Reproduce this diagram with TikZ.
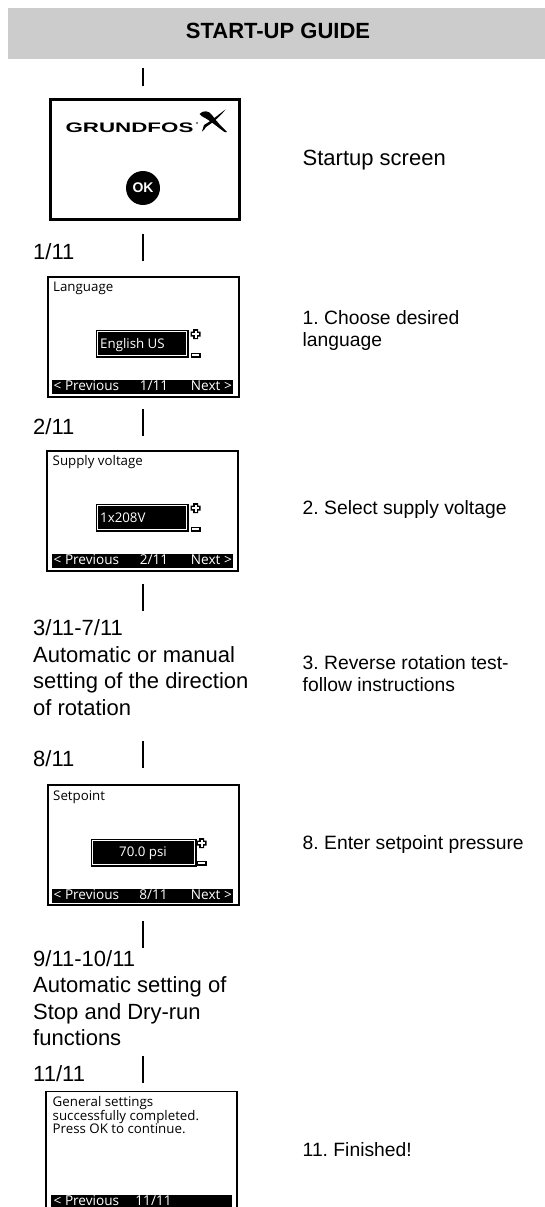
\documentclass[tikz,border=0pt]{standalone}
\usepackage{fontspec}
\setmainfont{Liberation Sans}
\newfontfamily\lcd{Open Sans}
\definecolor{hdr}{RGB}{204,204,204}
\tikzset{
 x=1pt,y=-1pt,
 link/.style={draw=black,line width=2pt},
 screen/.style={draw=black,fill=white,line width=1.6pt,minimum width=191pt,minimum height=120pt,inner sep=0pt,anchor=north west},
 big/.style={anchor=base west,inner sep=0pt,font=\fontsize{22}{26.5}\selectfont\frenchspacing,align=left},
 captxt/.style={anchor=base west,inner sep=0pt,font=\fontsize{19.3}{22}\selectfont\frenchspacing,align=left},
 lcdtext/.style={inner sep=0pt,font=\lcd\fontsize{13.3}{13.7}\selectfont,align=left},
 lcdbar/.style={inner sep=0pt,text=white,font=\lcd\fontsize{13.6}{13.7}\selectfont},
 bar/.style={fill=black,inner sep=0pt,minimum width=181pt,minimum height=14pt,anchor=north west},
 valbox/.style={draw=black,fill=black,inner sep=0pt,minimum height=27pt,line width=.5pt},
 valtext/.style={inner sep=0pt,text=white,font=\lcd\fontsize{13.3}{13.7}\selectfont},
}
\newcommand{\plusminus}[3]{%
 \fill (#1-2.5,#2-5)--(#1+2.5,#2-5)--(#1+2.5,#2-2.5)--(#1+5,#2-2.5)--(#1+5,#2+2.5)--(#1+2.5,#2+2.5)--(#1+2.5,#2+5)--(#1-2.5,#2+5)--(#1-2.5,#2+2.5)--(#1-5,#2+2.5)--(#1-5,#2-2.5)--(#1-2.5,#2-2.5)--cycle;
 \fill[white] (#1-1,#2-3.5) rectangle (#1+1,#2+3.5);
 \fill[white] (#1-3.5,#2-1) rectangle (#1+3.5,#2+1);
 \fill (#1-5,#3-2.5) rectangle (#1+5,#3+2.5);
 \fill[white] (#1-3.5,#3-1) rectangle (#1+3.5,#3+1);
}
\begin{document}
\begin{tikzpicture}
\useasboundingbox (0,0) rectangle (545,1207);
\fill[white] (0,0) rectangle (545,1207);
\fill[hdr] (8,8) rectangle (545,59);
\node[anchor=base,inner sep=0pt,font=\bfseries\fontsize{22}{24}\selectfont] (header) at (278,38.3) {START-UP GUIDE};

% screen 0
\node[screen,line width=2.5pt,minimum width=189pt,minimum height=120pt] (s0) at (49.2,98.3) {};
\node[anchor=base,inner sep=0pt,font=\bfseries\fontsize{13.8}{14}\selectfont] (logo) at (129.5,132) {\scalebox{1.62}[1]{GRUNDFOS}};
\fill (199.5,114) .. controls (203,110) and (209,110.5) .. (212,115) .. controls (216,121) and (222,127) .. (227,132) -- (224.5,132) .. controls (218,127.5) and (212,122) .. (206,118.5) .. controls (203,117) and (201,116) .. (199.5,114) -- cycle;
\fill (225.5,109.5) .. controls (220,116.5) and (213,122.5) .. (206,127) .. controls (205,129) and (203.5,130.5) .. (202,131.5) -- (204,125) .. controls (211,121) and (218,115) .. (225.5,109.5) -- cycle;
\fill (197,123) circle (.8pt);
\node[circle,fill=black,text=white,inner sep=0pt,minimum size=34pt,font=\bfseries\fontsize{14}{14}\selectfont] (ok) at (143,188) {OK};

% screen 1
\node[screen] (s1) at (47,276) {};
\node[lcdtext,anchor=base west] (s1t) at (53,291.7) {Language};
\node[valbox,minimum width=92pt] (s1v) at (142,343.5) {};
\draw[white,line width=.8pt] (97.5,331.5) rectangle (186.5,355.5);
\node[valtext,anchor=base west] (s1w) at (100,348.3) {English US};
\node[bar] (s1b) at (52,380) {};
\node[lcdbar,anchor=base west] (s1p) at (53.5,390.7) {< Previous};
\node[lcdbar,anchor=base] (s1n) at (154,390.7) {1/11};
\node[lcdbar,anchor=base east] (s1x) at (232,390.7) {Next >};
\plusminus{195.5}{334}{355}

% screen 2
\node[screen] (s2) at (46,450) {};
\node[lcdtext,anchor=base west] (s2t) at (52.5,465.7) {Supply voltage};
\node[valbox,minimum width=92pt] (s2v) at (142,517.5) {};
\draw[white,line width=.8pt] (97.5,505.5) rectangle (186.5,529.5);
\node[valtext,anchor=base west] (s2w) at (100,522.3) {1x208V};
\node[bar] (s2b) at (52,554) {};
\node[lcdbar,anchor=base west] (s2p) at (53.5,564.7) {< Previous};
\node[lcdbar,anchor=base] (s2n) at (154,564.7) {2/11};
\node[lcdbar,anchor=base east] (s2x) at (232,564.7) {Next >};
\plusminus{195.5}{508}{529}

% screen 3
\node[screen,line width=2pt] (s3) at (46.8,784) {};
\node[lcdtext,anchor=base west] (s3t) at (53,800.7) {Setpoint};
\node[valbox,minimum width=105pt] (s3v) at (143.5,852.5) {};
\draw[white,line width=.8pt] (92.5,840.5) rectangle (194.5,864.5);
\node[valtext,anchor=base] (s3w) at (143,856.7) {70.0 psi};
\node[bar] (s3b) at (52,889) {};
\node[lcdbar,anchor=base west] (s3p) at (53.5,899.3) {< Previous};
\node[lcdbar,anchor=base] (s3n) at (153.5,899.3) {8/11};
\node[lcdbar,anchor=base east] (s3x) at (232,899.3) {Next >};
\plusminus{201.5}{843}{863}

% screen 4 (cut by the page)
\draw[black,line width=1.5pt,fill=white] (46,1207) -- (46,1091.7) -- (237,1091.7) -- (237,1207);
\node[lcdtext,anchor=north west] (s4t) at (52.5,1096) {General settings\\successfully completed.\\Press OK to continue.};
\fill (51,1195) rectangle (232,1207);
\node[lcdbar,anchor=base west] (s4p) at (53.5,1205) {< Previous};
\node[lcdbar,anchor=base] (s4n) at (153.5,1205) {11/11};

% left texts
\node[big] (l1) at (33,259.3) {1/11};
\node[big] (l2) at (33,434) {2/11};
\node[big] (l3) at (33,715) {3/11-7/11\\Automatic or manual\\setting of the direction\\of rotation};
\node[big] (l4) at (33,766) {8/11};
\node[big] (l5) at (33,1045.7) {9/11-10/11\\Automatic setting of\\Stop and Dry-run\\functions};
\node[big] (l6) at (33,1081.7) {11/11};

% right texts
\node[big] (r0) at (302.5,165) {Startup screen};
\node[captxt] (r1) at (302.5,346) {1. Choose desired\\language};
\node[captxt] (r2) at (302.5,514) {2. Select supply voltage};
\node[captxt] (r3) at (302.5,691) {3. Reverse rotation test-\\follow instructions};
\node[captxt] (r4) at (302.5,849.3) {8. Enter setpoint pressure};
\node[captxt] (r5) at (302.5,1156) {11. Finished!};

% connectors
\coordinate (c1a) at (143,68); \coordinate (c1b) at (143,86);
\coordinate (c2a) at (143,234); \coordinate (c2b) at (143,261);
\coordinate (c3a) at (143,409); \coordinate (c3b) at (143,436);
\coordinate (c4a) at (143,584); \coordinate (c4b) at (143,611);
\coordinate (c5a) at (143,741); \coordinate (c5b) at (143,768);
\coordinate (c6a) at (143,921); \coordinate (c6b) at (143,948);
\coordinate (c7a) at (143,1056); \coordinate (c7b) at (143,1083);
\foreach \k in {1,...,7} \draw[link] (c\k a) -- (c\k b);
\end{tikzpicture}
\end{document}
